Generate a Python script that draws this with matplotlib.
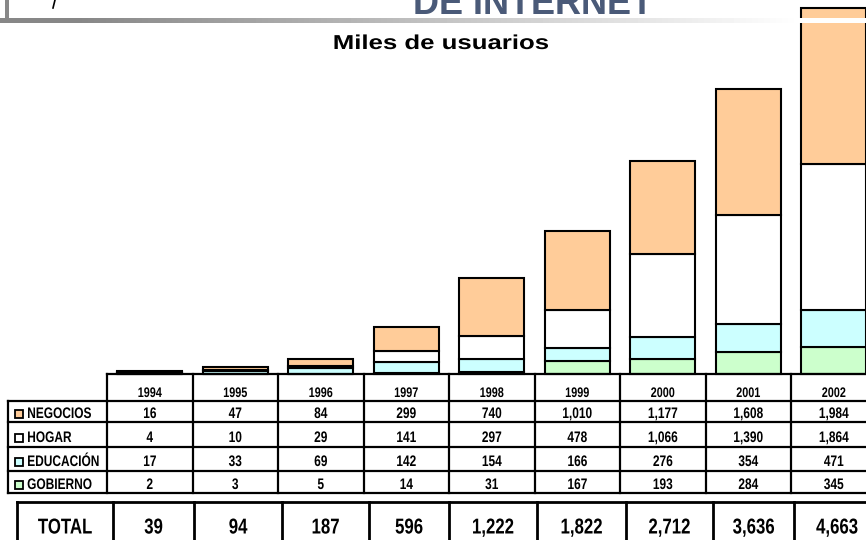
import numpy as np
import matplotlib
matplotlib.use("Agg")
import matplotlib.pyplot as plt
from matplotlib.patches import Rectangle
from matplotlib.patheffects import AbstractPathEffect
from matplotlib.transforms import Affine2D

# data
years = ['1994', '1995', '1996', '1997', '1998', '1999', '2000', '2001', '2002']
negocios = [16, 47, 84, 299, 740, 1010, 1177, 1608, 1984]
hogar = [4, 10, 29, 141, 297, 478, 1066, 1390, 1864]
educacion = [17, 33, 69, 142, 154, 166, 276, 354, 471]
gobierno = [2, 3, 5, 14, 31, 167, 193, 284, 345]
totals = [39, 94, 187, 596, 1222, 1822, 2712, 3636, 4663]

row_names = ['NEGOCIOS', 'HOGAR', 'EDUCACIÓN', 'GOBIERNO']
row_colors = ['#FFCC99', '#FFFFFF', '#CCFFFF', '#CCFFCC']

fam = ['Liberation Sans', 'DejaVu Sans']


class Squeeze(AbstractPathEffect):
    # scale glyphs horizontally (no narrow font installed)
    def __init__(self, sx, anchor='center'):
        super().__init__()
        self.sx = sx
        self.anchor = anchor

    def draw_path(self, renderer, gc, tpath, affine, rgbFace=None):
        ext = tpath.get_extents()
        cx = ext.x0 if self.anchor == 'left' else (ext.x0 + ext.x1) / 2
        t = Affine2D().translate(-cx, 0).scale(self.sx, 1).translate(cx, 0) + affine
        renderer.draw_path(gc, tpath, t, rgbFace)


narrow = [Squeeze(0.78)]
narrow_left = [Squeeze(0.78, 'left')]

W, H = 866, 540
fig = plt.figure(figsize=(W / 100, H / 100), dpi=100)

# bar chart axes, lined up with the table columns
col0, colw = 107, 85.5
base = 374
ax = fig.add_axes([col0 / W, (H - base) / H, 9 * colw / W, base / H])
ax.set_zorder(1)
x = np.arange(len(years))
bottom = np.zeros(len(years))
for vals, c in zip([gobierno, educacion, hogar, negocios], row_colors[::-1]):
    ax.bar(x, vals, width=0.76, bottom=bottom, color=c, edgecolor='black',
           linewidth=1.5, clip_on=False)
    bottom += np.array(vals)
ax.set_xlim(-0.5, 8.5)
ax.set_ylim(0, 4663 * base / 366)
ax.axis('off')

# overlay in pixel coords for header, table and totals
ov = fig.add_axes([0, 0, 1, 1])
ov.set_zorder(2)
ov.patch.set_visible(False)
ov.set_xlim(0, W)
ov.set_ylim(H, 0)
ov.axis('off')

# slide header bits
grad = np.concatenate([np.full(80, 0.53), np.linspace(0.53, 1.0, 720), np.ones(66)])
ov.imshow(grad[np.newaxis, :], cmap='gray', vmin=0, vmax=1, aspect='auto',
          extent=(0, W, 23, 18), zorder=1)
ov.add_patch(Rectangle((5, 0), 4, 18, color='#888888', lw=0))
ov.plot([55, 53], [0, 8], color='black', lw=1.2)
ov.text(533, 13.5, 'DE INTERNET', ha='center', va='baseline', fontsize=26,
        fontweight='bold', color='#4A5A78', family=fam)
ov.text(441, 49, 'Miles de usuarios', ha='center', va='baseline', fontsize=14.5,
        fontweight='bold', color='black', family=fam,
        path_effects=[Squeeze(1.28)])

# data table grid
lw = 1.6
edges = [col0 + colw * j for j in range(10)]
row_lines = [400.7, 422.3, 446.7, 471, 492.7]
ov.plot([col0, W + 20], [base, base], color='black', lw=lw)
for yy in row_lines:
    ov.plot([8, W + 20], [yy, yy], color='black', lw=lw)
for xx in edges:
    ov.plot([xx, xx], [base, row_lines[-1]], color='black', lw=lw)
ov.plot([8, 8], [row_lines[0], row_lines[-1]], color='black', lw=lw)

for j, yr in enumerate(years):
    ov.text(col0 + colw * (j + 0.5), 393, yr, ha='center', va='center',
            fontsize=10, fontweight='bold', family=fam, path_effects=narrow)

series = [negocios, hogar, educacion, gobierno]
row_mid = [414, 438, 462, 485]
for r, (name, c, vals) in enumerate(zip(row_names, row_colors, series)):
    ym = row_mid[r]
    ov.add_patch(Rectangle((15, ym - 4), 8, 8, facecolor=c, edgecolor='black', lw=1.3))
    ov.text(27, ym, name, ha='left', va='center', fontsize=11, fontweight='bold',
            family=fam, path_effects=narrow_left)
    for j, v in enumerate(vals):
        ov.text(col0 + colw * (j + 0.5), ym, f'{v:,}', ha='center', va='center',
                fontsize=11, fontweight='bold', family=fam, path_effects=narrow)

# totals box
tot_edges = [17, 113, 194, 282, 369, 449, 537, 626, 713, 794, 880]
ttop = 502
lw2 = 2.0
ov.plot([17, W + 20], [ttop, ttop], color='black', lw=lw2)
for xx in tot_edges:
    ov.plot([xx, xx], [ttop, H + 10], color='black', lw=lw2)
ov.text((tot_edges[0] + tot_edges[1]) / 2, 528, 'TOTAL', ha='center', va='center',
        fontsize=15.5, fontweight='bold', family=fam, path_effects=narrow)
for j, v in enumerate(totals):
    ov.text((tot_edges[j + 1] + tot_edges[j + 2]) / 2, 528, f'{v:,}', ha='center',
            va='center', fontsize=15.5, fontweight='bold', family=fam,
            path_effects=narrow)

fig.savefig('out.png', dpi=100)
